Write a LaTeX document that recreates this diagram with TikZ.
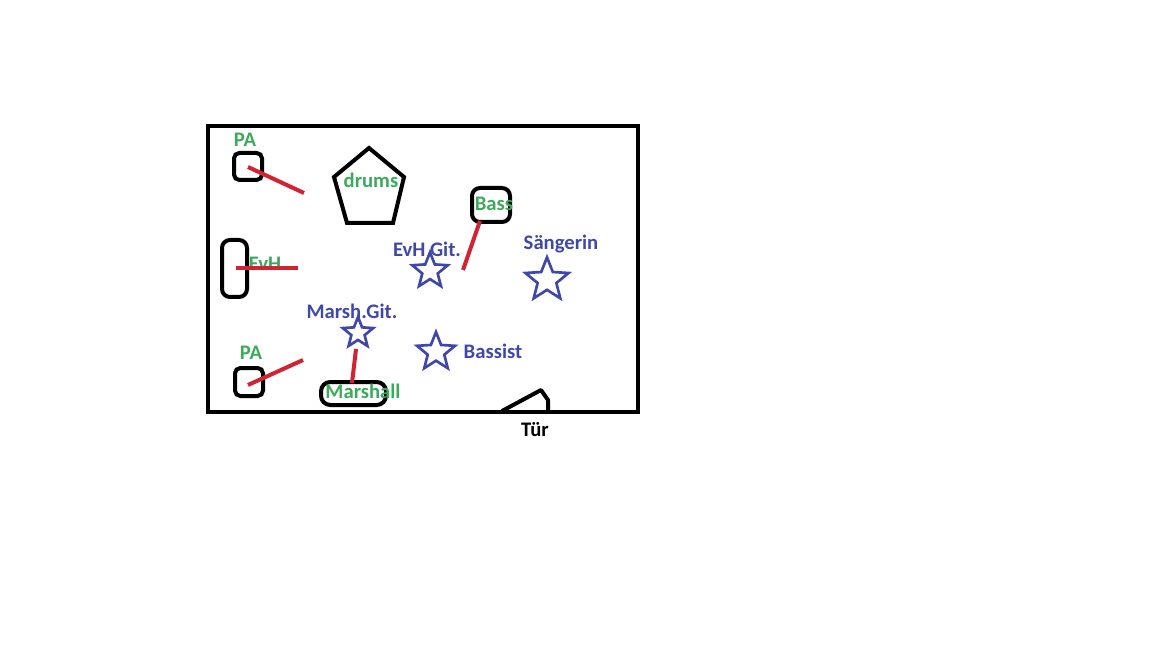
\documentclass[tikz,border=0pt]{standalone}
\usepackage{fontspec}
\setmainfont{Carlito}
\usetikzlibrary{shapes.geometric}
\definecolor{gruen}{RGB}{60,170,90}
\definecolor{blau}{RGB}{63,72,168}
\definecolor{rot}{RGB}{210,35,50}
\begin{document}
\begin{tikzpicture}[x=0.75pt,y=-0.75pt,
  kiste/.style={draw,line width=3pt,rounded corners=4pt},
  kabel/.style={draw=rot,line width=3pt},
  gruentext/.style={text=gruen,font=\fontsize{15.5}{17}\selectfont\bfseries,inner sep=0pt},
  blautext/.style={text=blau,font=\fontsize{15.5}{17}\selectfont\bfseries,inner sep=0pt},
  spieler/.style={star,star points=5,star point ratio=2.3,draw=blau,line width=2pt,inner sep=0pt}]
\useasboundingbox (0,0) rectangle (1152,648);
\draw [line width=3.5pt] (208,126) rectangle (638,412);
% PA oben
\draw [kiste] (234,153) rectangle (262,180);
\node [gruentext] (pa1) at (245,140) {PA};
\coordinate (pa1a) at (248,167);
\coordinate (pa1b) at (304,193);
\draw [kabel] (pa1a) -- (pa1b);
% drums
\draw [line width=3pt] (369,148) -- (404,177) -- (393,223) -- (347,223) -- (334,177) -- cycle;
\node [gruentext] (drums) at (371,180) {drums};
% EvH
\draw [kiste,rounded corners=6pt] (222,240) rectangle (247,297);
\node [gruentext] (evh) at (265,264) {EvH};
\coordinate (evha) at (236,268);
\coordinate (evhb) at (298,268);
\draw [kabel] (evha) -- (evhb);
% Bass
\draw [kiste,rounded corners=6pt] (472,188) rectangle (510,222);
\node [gruentext] (bass) at (494,204) {Bass};
\coordinate (bassa) at (480,221);
\coordinate (bassb) at (463,270);
\draw [kabel] (bassa) -- (bassb);
% Spieler
\node [spieler,minimum size=28] (evhgit) at (430,271) {};
\node [blautext] at (427,249) {EvH Git.};
\node [spieler,minimum size=34] (saengerin) at (547,280) {};
\node [blautext] at (561,244) {Sängerin};
\node [spieler,minimum size=24] (marshgit) at (358,333) {};
\node [blautext] at (352,311) {Marsh.Git.};
\node [spieler,minimum size=30] (bassist) at (436,352) {};
\node [blautext] at (493,351) {Bassist};
% Marshall
\draw [kiste,rounded corners=7pt] (321,382) rectangle (386,405);
\node [gruentext] (marshall) at (363,391) {Marshall};
\coordinate (marsha) at (356,349);
\coordinate (marshb) at (352,383);
\draw [kabel] (marsha) -- (marshb);
% PA unten
\draw [kiste] (235,368) rectangle (263,396);
\node [gruentext] (pa2) at (251,353) {PA};
\coordinate (pa2a) at (248,385);
\coordinate (pa2b) at (303,360);
\draw [kabel] (pa2a) -- (pa2b);
% Tuer
\draw [line width=3pt,line join=round] (502,411) -- (541,390) -- (548,400) -- (548,411);
\node [font=\fontsize{15.5}{17}\selectfont\bfseries,inner sep=0pt] (tuer) at (535,430) {Tür};
\end{tikzpicture}
\end{document}
